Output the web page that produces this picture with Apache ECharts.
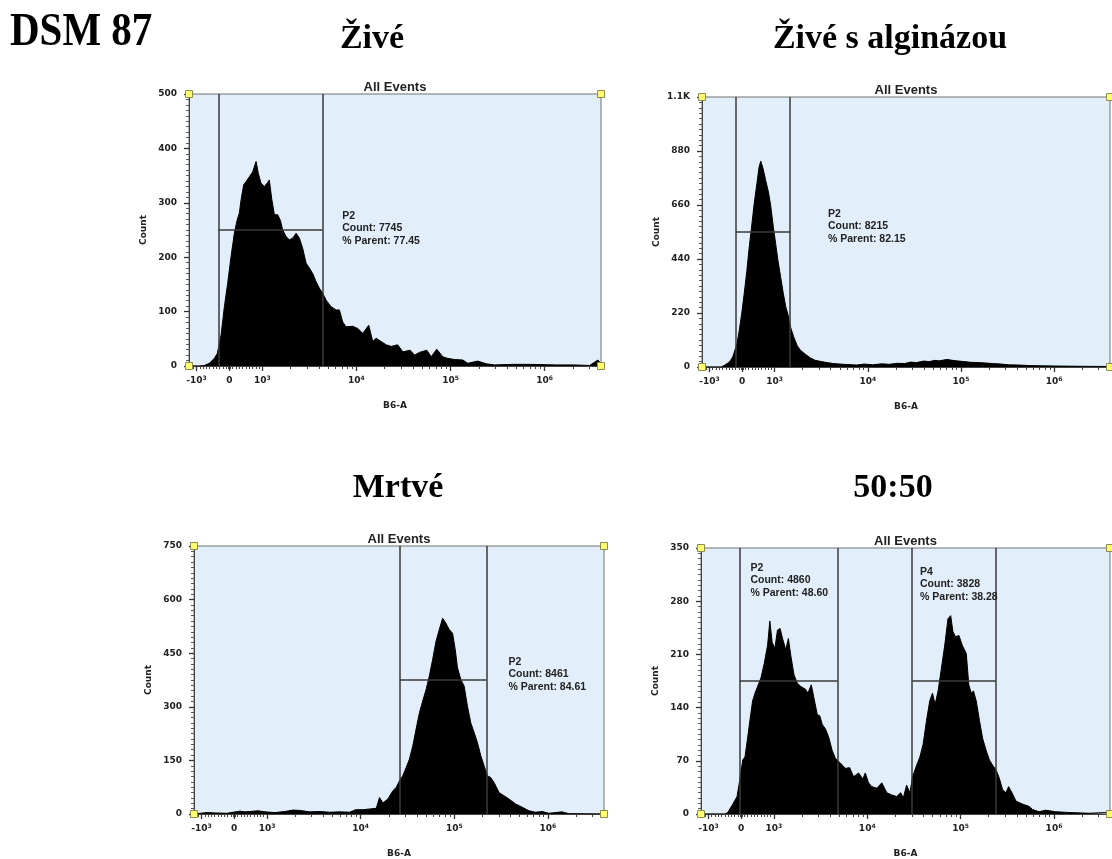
<!DOCTYPE html>
<html><head><meta charset="utf-8">
<script src="https://cdn.jsdelivr.net/npm/echarts@6/dist/echarts.min.js"></script>
<style>html,body{margin:0;padding:0;background:#fff}#c{width:1112px;height:859px}</style>
</head><body><div id="c"></div>
<script>
// x values are positions on the biexponential B6-A display scale, in decades (10^3 = 3, 10^4 = 4 ...)
const xTickPos = [2.30, 2.65, 3, 4, 5, 6];
const xTickLabels = [['-10', '3'], ['0', ''], ['10', '3'], ['10', '4'], ['10', '5'], ['10', '6']];
const mainTitle = 'DSM 87';
const panelTitles = ['Živé', 'Živé s alginázou', 'Mrtvé', '50:50'];
const yMaxes = [500, 1100, 750, 350];
const ySteps = [100, 220, 150, 70];

// histograms: [display position, count]
const zive = [[2.22,0],[2.33,0],[2.383,1],[2.436,5],[2.489,14],[2.521,23],[2.561,57],[2.596,109],[2.631,152],[2.667,201],[2.702,244],[2.731,268],[2.755,281],[2.773,305],[2.801,333],[2.827,339],[2.862,348],[2.897,357],[2.933,376],[2.957,354],[2.986,336],[3.021,330],[3.05,336],[3.074,342],[3.099,308],[3.128,278],[3.163,278],[3.191,268],[3.216,250],[3.252,238],[3.287,232],[3.322,235],[3.359,244],[3.394,235],[3.429,216],[3.465,189],[3.5,180],[3.535,170],[3.571,155],[3.606,143],[3.641,134],[3.678,121],[3.731,109],[3.784,103],[3.819,103],[3.854,81],[3.89,72],[3.961,73],[4.014,69],[4.067,60],[4.131,75],[4.173,45],[4.21,51],[4.263,45],[4.316,39],[4.369,36],[4.439,39],[4.493,26],[4.571,29],[4.617,20],[4.67,25],[4.748,29],[4.795,17],[4.854,31],[4.918,17],[4.971,14],[5.043,12],[5.131,11],[5.184,5],[5.29,9],[5.38,4],[5.468,2],[5.663,3],[5.84,3],[6.124,2],[6.301,2],[6.479,1],[6.567,11],[6.6,4]];
const ziveAlg = [[2.22,0],[2.426,0],[2.461,7],[2.514,20],[2.55,41],[2.567,61],[2.596,95],[2.62,149],[2.646,217],[2.673,299],[2.702,394],[2.727,489],[2.752,570],[2.78,665],[2.809,747],[2.833,815],[2.851,839],[2.876,808],[2.904,760],[2.933,713],[2.957,659],[2.986,570],[3.011,502],[3.035,435],[3.064,367],[3.093,299],[3.12,244],[3.141,217],[3.17,163],[3.205,122],[3.241,88],[3.277,68],[3.33,52],[3.383,37],[3.436,27],[3.489,23],[3.561,18],[3.631,14],[3.737,11],[3.88,8],[3.96,12],[4.053,9],[4.15,13],[4.234,11],[4.31,15],[4.394,14],[4.46,20],[4.521,18],[4.6,24],[4.66,22],[4.72,27],[4.766,25],[4.851,31],[4.926,26],[4.98,24],[5.032,22],[5.11,19],[5.191,18],[5.27,16],[5.351,14],[5.43,12],[5.511,9],[5.62,8],[5.723,6],[5.85,5],[6.011,4],[6.255,3],[6.6,2]];
const mrtve = [[2.22,0],[2.287,2],[2.36,4],[2.447,3],[2.571,2],[2.638,5],[2.713,8],[2.76,6],[2.819,7],[2.904,9],[2.979,6],[3.085,4],[3.191,7],[3.277,11],[3.351,10],[3.457,6],[3.564,7],[3.67,5],[3.777,6],[3.883,5],[3.947,12],[4.024,12],[4.096,14],[4.167,16],[4.202,46],[4.238,31],[4.291,42],[4.344,65],[4.38,74],[4.415,93],[4.45,107],[4.486,130],[4.521,153],[4.557,190],[4.592,237],[4.628,283],[4.663,316],[4.699,348],[4.734,386],[4.769,432],[4.805,483],[4.84,516],[4.876,548],[4.911,534],[4.947,516],[4.982,506],[5.011,460],[5.035,409],[5.071,376],[5.106,358],[5.141,302],[5.177,255],[5.213,228],[5.248,200],[5.284,163],[5.319,135],[5.354,107],[5.39,102],[5.426,88],[5.479,60],[5.532,51],[5.585,42],[5.656,28],[5.727,19],[5.798,9],[5.869,5],[5.94,7],[6.011,2],[6.149,6],[6.223,1],[6.6,0]];
const mix5050 = [[2.22,0],[2.471,0],[2.507,2],[2.561,13],[2.606,23],[2.641,49],[2.667,71],[2.691,75],[2.72,101],[2.748,127],[2.773,149],[2.801,160],[2.833,170],[2.862,179],[2.897,198],[2.933,222],[2.957,254],[2.982,226],[3.011,218],[3.039,242],[3.067,244],[3.093,231],[3.128,216],[3.156,231],[3.181,209],[3.216,183],[3.252,172],[3.287,168],[3.34,164],[3.365,159],[3.401,170],[3.429,153],[3.465,131],[3.493,129],[3.518,118],[3.553,112],[3.588,101],[3.624,84],[3.66,73],[3.713,67],[3.766,60],[3.812,61],[3.854,49],[3.907,54],[3.954,46],[3.979,54],[4.014,41],[4.05,36],[4.103,34],[4.156,41],[4.21,28],[4.263,25],[4.316,23],[4.359,28],[4.386,21],[4.422,38],[4.457,28],[4.486,49],[4.529,64],[4.564,75],[4.599,92],[4.635,123],[4.67,149],[4.699,159],[4.727,144],[4.759,162],[4.795,192],[4.83,222],[4.865,257],[4.894,261],[4.918,240],[4.947,233],[4.982,235],[5.018,222],[5.061,211],[5.088,170],[5.114,159],[5.138,162],[5.167,149],[5.202,123],[5.237,99],[5.273,84],[5.309,71],[5.344,64],[5.38,58],[5.415,47],[5.45,32],[5.486,28],[5.514,36],[5.55,28],[5.593,17],[5.663,13],[5.734,10],[5.769,6],[5.84,3],[5.912,5],[6.018,3],[6.16,2],[6.372,1],[6.6,2]];
const histograms = [zive, ziveAlg, mrtve, mix5050];

// gates: [name, low, high, level, count, % parent]
const gates = [
  [['P2', 2.532, 3.638, 250, 7745, '77.45']],
  [['P2', 2.585, 3.163, 550, 8215, '82.15']],
  [['P2', 4.415, 5.344, 375, 8461, '84.61']],
  [['P2', 2.635, 3.684, 175, 4860, '48.60'], ['P4', 4.482, 5.376, 175, 3828, '38.28']]
];
// where each gate's statistics box starts: [display position, count]
const gateLabelAt = [
  [[3.854, 290]],
  [[3.578, 655]],
  [[5.585, 448]],
  [[2.755, 334], [4.571, 329]]
];

const X_MIN = 2.22, X_MAX = 6.6;
const layout = [
  {left: 189, top: 94, width: 412, height: 272},
  {left: 702, top: 97, width: 408, height: 270},
  {left: 194, top: 546, width: 410, height: 269},
  {left: 701, top: 548, width: 409, height: 270}
];
const titlePos = [[372, 39], [890, 39], [398, 488], [893, 488]];

const xMinor = [2.23, 2.265, 2.335, 2.37, 2.405, 2.44, 2.475, 2.51, 2.545, 2.58, 2.615, 2.64, 2.66,
  2.685, 2.72, 2.755, 2.79, 2.825, 2.86, 2.895, 2.93, 2.965];
for (let d = 3; d <= 6; d++) for (let k = 2; k <= 9; k++) { const v = d + Math.log10(k); if (v < X_MAX) xMinor.push(+v.toFixed(4)); }

const axisFont = 'DejaVu Sans';
const chart = echarts.init(document.getElementById('c'));
const grid = [], xAxis = [], yAxis = [], series = [], graphic = [];

graphic.push({type: 'text', x: 10, y: 33, scaleY: 1.12,
  style: {text: mainTitle, font: 'bold 41px "Liberation Serif"', fill: '#000', align: 'left', verticalAlign: 'middle'}});

layout.forEach((g, i) => {
  grid.push({left: g.left, top: g.top, width: g.width, height: g.height, show: true,
    backgroundColor: '#e2effa', borderColor: '#707070', borderWidth: 1});
  xAxis.push({gridIndex: i, type: 'value', position: 'bottom', min: X_MIN, max: X_MAX,
    name: 'B6-A', nameLocation: 'middle', nameGap: 35,
    nameTextStyle: {fontFamily: axisFont, fontWeight: 'bold', fontSize: 9, color: '#222'},
    axisLine: {show: true, onZero: false, lineStyle: {color: '#444', width: 1}},
    axisTick: {show: true, customValues: xTickPos, length: 5, lineStyle: {color: '#333', width: 1.3}},
    axisLabel: {show: true, customValues: xTickPos, margin: 9,
      formatter: v => { let b = 0; xTickPos.forEach((p, k) => { if (Math.abs(p - v) < Math.abs(xTickPos[b] - v)) b = k; });
        const t = xTickLabels[b]; return '{b|' + t[0] + '}' + (t[1] ? '{s|' + t[1] + '}' : ''); },
      rich: {b: {fontFamily: axisFont, fontWeight: 'bold', fontSize: 9, color: '#222', lineHeight: 12},
             s: {fontFamily: axisFont, fontWeight: 'bold', fontSize: 6, color: '#222', verticalAlign: 'top', lineHeight: 8}}},
    splitLine: {show: false}});
  xAxis.push({gridIndex: i, type: 'value', position: 'bottom', min: X_MIN, max: X_MAX,
    axisLine: {show: false}, axisLabel: {show: false}, splitLine: {show: false},
    axisTick: {show: true, customValues: xMinor, length: 3, lineStyle: {color: '#444', width: 1}}});
  yAxis.push({gridIndex: i, type: 'value', min: 0, max: yMaxes[i], interval: ySteps[i],
    name: 'Count', nameLocation: 'middle', nameGap: 41, nameRotate: 90,
    nameTextStyle: {fontFamily: axisFont, fontWeight: 'bold', fontSize: 9, color: '#222'},
    axisLine: {show: true, onZero: false, lineStyle: {color: '#444'}},
    axisTick: {show: true, length: 5, lineStyle: {color: '#333', width: 1.3}},
    minorTick: {show: true, splitNumber: 10, length: 3, lineStyle: {color: '#555'}},
    axisLabel: {fontFamily: axisFont, fontWeight: 'bold', fontSize: 9, color: '#222', margin: 12,
      formatter: v => v >= 1000 ? (v / 1000).toFixed(1) + 'K' : String(v)},
    splitLine: {show: false}});

  const ymax = yMaxes[i];
  const gateLines = [];
  gates[i].forEach(gt => {
    gateLines.push([{coord: [gt[1], 0]}, {coord: [gt[1], ymax]}]);
    gateLines.push([{coord: [gt[2], 0]}, {coord: [gt[2], ymax]}]);
    gateLines.push([{coord: [gt[1], gt[3]]}, {coord: [gt[2], gt[3]]}]);
  });
  const marks = [[X_MIN, 0], [X_MIN, ymax], [X_MAX, 0], [X_MAX, ymax]].map(c => ({coord: c}));
  gates[i].forEach((gt, k) => {
    marks.push({coord: gateLabelAt[i][k], symbol: 'rect', symbolSize: 1,
      itemStyle: {color: 'rgba(0,0,0,0)', borderWidth: 0},
      label: {show: true, position: [0, 2], align: 'left', verticalAlign: 'top',
        formatter: gt[0] + '\nCount: ' + gt[4] + '\n% Parent: ' + gt[5],
        fontFamily: 'Liberation Sans', fontWeight: 'bold', fontSize: 10.5, lineHeight: 12.5, color: '#222'}});
  });
  series.push({type: 'line', xAxisIndex: 2 * i, yAxisIndex: i, data: histograms[i],
    showSymbol: false, symbol: 'none', animation: false, clip: true,
    lineStyle: {color: '#000', width: 1}, areaStyle: {color: '#000', opacity: 1},
    markLine: {silent: true, symbol: 'none', animation: false, label: {show: false},
      lineStyle: {color: '#3a3a3a', width: 1.5, type: 'solid'}, data: gateLines},
    markPoint: {silent: true, animation: false, symbol: 'rect', symbolSize: 7,
      itemStyle: {color: '#ffff70', borderColor: '#8c8c50', borderWidth: 1},
      label: {show: false}, data: marks}
  });

  graphic.push({type: 'text', x: g.left + g.width / 2, y: g.top - 7,
    style: {text: 'All Events', font: 'bold 13px "Liberation Sans"', fill: '#222', align: 'center', verticalAlign: 'middle'}});
  graphic.push({type: 'text', x: titlePos[i][0], y: titlePos[i][1],
    style: {text: panelTitles[i], font: 'bold 34px "Liberation Serif"', fill: '#000', align: 'center', verticalAlign: 'middle'}});
});

chart.setOption({animation: false, grid, xAxis, yAxis, series, graphic});
</script></body></html>
